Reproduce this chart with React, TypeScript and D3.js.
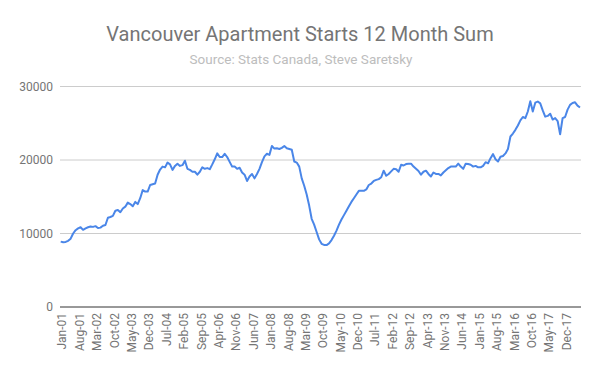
import React from "react";
import * as d3 from "d3";

const title = "Vancouver Apartment Starts 12 Month Sum";
const subtitle = "Source: Stats Canada, Steve Saretsky";

const monthNames = ["Jan","Feb","Mar","Apr","May","Jun","Jul","Aug","Sep","Oct","Nov","Dec"];
const startYear = 2001;

const starts: number[] = [
  8900, 8800, 8850, 9000, 9300, 10000, 10450, 10700, 10850, 10500,
  10700, 10850, 10950, 10900, 11000, 10750, 10800, 11050, 11150, 12150,
  12250, 12400, 13100, 13200, 12900, 13400, 13650, 14200, 14000, 13700,
  14300, 14000, 14800, 15900, 15700, 15700, 16600, 16700, 16800, 18000,
  18700, 19100, 19000, 19650, 19400, 18650, 19200, 19500, 19200, 19300,
  19900, 18800, 18650, 18400, 18400, 18000, 18400, 19000, 18800, 18900,
  18750, 19400, 20100, 20900, 20400, 20400, 20850, 20400, 19750, 19100,
  19100, 18800, 18950, 18300, 18000, 17150, 17750, 18100, 17500, 18100,
  18800, 19700, 20500, 20850, 20700, 21900, 21550, 21600, 21500, 21650,
  21900, 21600, 21500, 21400, 19800, 19650, 19100, 17500, 16500, 15300,
  13800, 12000, 11200, 10200, 9200, 8600, 8450, 8420, 8650, 9100,
  9700, 10400, 11200, 11900, 12500, 13100, 13700, 14300, 14800, 15300,
  15800, 15800, 15800, 16000, 16600, 16800, 17150, 17300, 17400, 17650,
  18550, 17850, 18100, 18450, 18800, 18750, 18400, 19350, 19250, 19450,
  19500, 19500, 19100, 18800, 18500, 18000, 18400, 18550, 18100, 17750,
  18300, 18100, 18100, 17900, 18300, 18600, 18900, 19100, 19100, 19100,
  19500, 19100, 18800, 19500, 19450, 19350, 19100, 19200, 19000, 19000,
  19200, 19700, 19550, 20250, 20800, 20100, 19800, 20450, 20550, 20900,
  21500, 23200, 23600, 24100, 24700, 25400, 25850, 25700, 26600, 28000,
  26600, 27800, 27950, 27700, 26750, 25900, 26000, 26300, 25500, 25700,
  25300, 23500, 25700, 25850, 26850, 27500, 27750, 27850, 27400, 27150,
];

const yTicks = [0, 10000, 20000, 30000];
const labelEvery = 7;

const monthLabel = (i: number) => {
  const m = i % 12;
  const y = startYear + Math.floor(i / 12);
  return `${monthNames[m]}-${String(y % 100).padStart(2, "0")}`;
};

export default function App() {
  const W = 600, H = 371;
  const left = 60.7, right = 580, top = 86.5, bottom = 307;
  const x = d3.scaleLinear().domain([0, starts.length - 1]).range([left, right]);
  const y = d3.scaleLinear().domain([0, 30000]).range([bottom, top]);
  const line = d3.line<number>().x((_, i) => x(i)).y((d) => y(d));
  const labelIdx = d3.range(0, starts.length, labelEvery);

  return (
    <svg width={W} height={H} style={{ position: "absolute", left: 0, top: 0 }} fontFamily="Roboto, Arial, sans-serif">
      <rect width={W} height={H} fill="#ffffff" />
      <text x={300} y={41} textAnchor="middle" fontSize={20} fill="#757575">{title}</text>
      <text x={301} y={64} textAnchor="middle" fontSize={13.5} fill="#bdbdbd">{subtitle}</text>
      {yTicks.map((t) => (
        <g key={t}>
          {t !== 0 && (
            <line x1={60} x2={581} y1={y(t)} y2={y(t)} stroke="#cccccc" strokeWidth={1} />
          )}
          <text x={53} y={y(t)} dy="0.35em" textAnchor="end" fontSize={12} fill="#757575">{t}</text>
        </g>
      ))}
      <path d={line(starts) || ""} fill="none" stroke="#4a86e8" strokeWidth={2} strokeLinejoin="round" />
      <line x1={60} x2={581} y1={y(0)} y2={y(0)} stroke="#333333" strokeWidth={1} />
      {labelIdx.map((i) => (
        <text
          key={i}
          transform={`translate(${x(i) + 1.5},313) rotate(-90)`}
          dy="0.35em"
          textAnchor="end"
          fontSize={12}
          fill="#757575"
        >
          {monthLabel(i)}
        </text>
      ))}
    </svg>
  );
}
